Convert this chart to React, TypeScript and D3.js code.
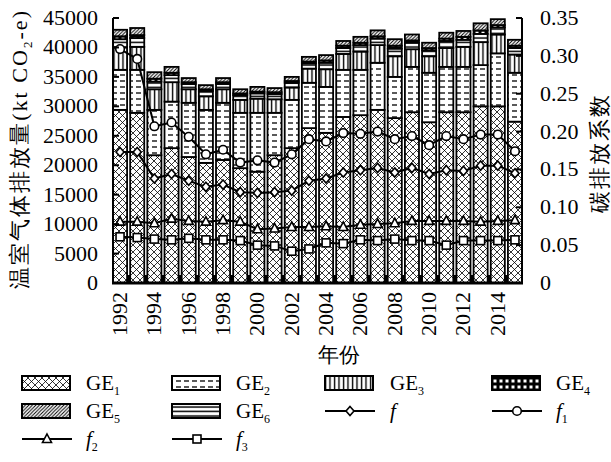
import { useEffect, useRef } from "react";
import * as d3 from "d3";

const years = [1992, 1993, 1994, 1995, 1996, 1997, 1998, 1999, 2000, 2001, 2002, 2003,
  2004, 2005, 2006, 2007, 2008, 2009, 2010, 2011, 2012, 2013, 2014, 2015];

// stacked emission components (kt CO2-e)
const GE1 = [29400, 28900, 21700, 22900, 21400, 20400, 20900, 19500, 18900, 21700, 22900, 26300,
  25500, 28200, 28500, 29400, 28000, 29000, 27300, 29000, 29000, 30000, 30000, 27400];
const GE2 = [6800, 7300, 7700, 7900, 9200, 9000, 9700, 9400, 10000, 7200, 8200, 7700,
  7800, 8000, 7700, 8000, 7000, 7700, 8400, 7700, 7700, 7000, 9000, 8300];
const GE3 = [3800, 3900, 3500, 3300, 2300, 2300, 2300, 2200, 2400, 2300, 2100, 2400,
  3000, 2700, 3100, 3000, 3500, 3000, 2800, 3200, 3400, 3900, 3200, 3100];
const GE4 = [500, 500, 500, 400, 300, 300, 300, 300, 300, 300, 300, 300,
  400, 400, 400, 400, 500, 400, 400, 400, 500, 600, 400, 400];
const GE5 = [1100, 1200, 1100, 1000, 700, 700, 700, 700, 800, 700, 700, 800,
  900, 800, 1000, 1000, 1100, 1000, 900, 1000, 1000, 1200, 1000, 1000];
const GE6 = [1400, 1500, 1300, 1200, 900, 900, 900, 800, 900, 900, 800, 900,
  1100, 1000, 1100, 1100, 1300, 1100, 1000, 1200, 1200, 1400, 1200, 1100];

// carbon emission coefficients
const f = [0.173, 0.173, 0.138, 0.144, 0.135, 0.127, 0.130, 0.120, 0.119, 0.120, 0.122, 0.135,
  0.138, 0.146, 0.149, 0.152, 0.146, 0.152, 0.144, 0.149, 0.148, 0.155, 0.155, 0.145];
const f1 = [0.309, 0.296, 0.207, 0.212, 0.193, 0.170, 0.176, 0.159, 0.162, 0.159, 0.170, 0.190,
  0.187, 0.198, 0.197, 0.200, 0.190, 0.194, 0.182, 0.194, 0.190, 0.196, 0.196, 0.174];
const f2 = [0.081, 0.081, 0.079, 0.085, 0.082, 0.081, 0.083, 0.081, 0.071, 0.072, 0.074, 0.074,
  0.075, 0.074, 0.077, 0.078, 0.079, 0.082, 0.082, 0.082, 0.082, 0.081, 0.082, 0.083];
const f3 = [0.061, 0.060, 0.058, 0.057, 0.059, 0.057, 0.057, 0.056, 0.050, 0.049, 0.042, 0.045,
  0.053, 0.052, 0.057, 0.056, 0.058, 0.056, 0.056, 0.050, 0.056, 0.056, 0.056, 0.057];

const leftTicks = [0, 5000, 10000, 15000, 20000, 25000, 30000, 35000, 40000, 45000];
const rightTicks = [0, 0.05, 0.1, 0.15, 0.2, 0.25, 0.3, 0.35];

const FAMILY = "Liberation Serif, serif";

type Key = "GE1" | "GE2" | "GE3" | "GE4" | "GE5" | "GE6";
const series: Record<Key, number[]> = { GE1, GE2, GE3, GE4, GE5, GE6 };
const stackOrder: Key[] = ["GE1", "GE2", "GE3", "GE6", "GE4", "GE5"];

const Marker = ({ kind, x, y }: { kind: string; x: number; y: number }) => {
  const common = { fill: "#fff", stroke: "#000", strokeWidth: 1.6 };
  if (kind === "circle") return <circle cx={x} cy={y} r={4.3} {...common} />;
  if (kind === "diamond")
    return <path d={`M${x},${y - 4.6}L${x + 4},${y}L${x},${y + 4.6}L${x - 4},${y}Z`} {...common} />;
  if (kind === "triangle")
    return <path d={`M${x},${y - 5}L${x + 4.5},${y + 3.5}L${x - 4.5},${y + 3.5}Z`} {...common} />;
  return <rect x={x - 4} y={y - 4} width={8} height={8} {...common} />;
};

export default function App() {
  const width = 611;
  const height = 462;
  const left = 113, right = 522, top = 18, bottom = 283;
  const svgRef = useRef<SVGSVGElement>(null);

  // force the serif face on every text node
  useEffect(() => {
    document.body.style.fontFamily = FAMILY;
    d3.select(svgRef.current).selectAll("text").attr("font-family", FAMILY);
  }, []);

  const x = d3.scaleBand<number>().domain(years).range([left, right]).paddingInner(0.18).paddingOuter(0);
  const yL = d3.scaleLinear().domain([0, 45000]).range([bottom, top]);
  const yR = d3.scaleLinear().domain([0, 0.35]).range([bottom, top]);
  const bw = x.bandwidth();

  const rows = years.map((yr, i) => {
    const r: any = { year: yr };
    stackOrder.forEach((k) => (r[k] = series[k][i]));
    return r;
  });
  const stacked = d3.stack<any>().keys(stackOrder)(rows);

  const lineGen = d3
    .line<number>()
    .x((_, i) => x(years[i])! + bw / 2)
    .y((v) => yR(v));

  const lines = [
    { name: "f", data: f, marker: "diamond" },
    { name: "f1", data: f1, marker: "circle" },
    { name: "f2", data: f2, marker: "triangle" },
    { name: "f3", data: f3, marker: "square" },
  ];

  const legendCols = [22, 172, 325, 492];
  const legendText = [86, 236, 390, 556];
  const legendRows = [383, 411, 439];
  const legendItems: { label: string; sub: string; italic: boolean; fill?: string; marker?: string }[] = [
    { label: "GE", sub: "1", italic: false, fill: "url(#pGE1)" },
    { label: "GE", sub: "2", italic: false, fill: "url(#pGE2)" },
    { label: "GE", sub: "3", italic: false, fill: "url(#pGE3)" },
    { label: "GE", sub: "4", italic: false, fill: "url(#pGE4)" },
    { label: "GE", sub: "5", italic: false, fill: "url(#pGE5)" },
    { label: "GE", sub: "6", italic: false, fill: "url(#pGE6)" },
    { label: "f", sub: "", italic: true, marker: "diamond" },
    { label: "f", sub: "1", italic: true, marker: "circle" },
    { label: "f", sub: "2", italic: true, marker: "triangle" },
    { label: "f", sub: "3", italic: true, marker: "square" },
  ];

  return (
    <svg ref={svgRef} width={width} height={height} fontFamily={FAMILY}
      style={{ position: "absolute", left: 0, top: 0 }}>
      <defs>
        <pattern id="pGE1" width={7} height={7} patternUnits="userSpaceOnUse">
          <rect width={7} height={7} fill="#fff" />
          <path d="M0,0L7,7M7,0L0,7" stroke="#000" strokeWidth={0.8} />
        </pattern>
        <pattern id="pGE2" width={8} height={6} patternUnits="userSpaceOnUse">
          <rect width={8} height={6} fill="#fff" />
          <path d="M0,3H5" stroke="#000" strokeWidth={1.3} />
        </pattern>
        <pattern id="pGE3" width={4.5} height={4} patternUnits="userSpaceOnUse">
          <rect width={4.5} height={4} fill="#fff" />
          <path d="M1.5,0V4" stroke="#000" strokeWidth={1.4} />
        </pattern>
        <pattern id="pGE4" width={6} height={6} patternUnits="userSpaceOnUse">
          <rect width={6} height={6} fill="#000" />
          <rect x={1.5} y={1.5} width={3} height={3} fill="#fff" />
        </pattern>
        <pattern id="pGE5" width={3.5} height={3.5} patternUnits="userSpaceOnUse">
          <rect width={3.5} height={3.5} fill="#fff" />
          <path d="M0,3.5L3.5,0M-1,1L1,-1M2.5,4.5L4.5,2.5" stroke="#000" strokeWidth={1} />
        </pattern>
        <pattern id="pGE6" width={4} height={4.5} patternUnits="userSpaceOnUse">
          <rect width={4} height={4.5} fill="#fff" />
          <path d="M0,2H4" stroke="#000" strokeWidth={1.5} />
        </pattern>
      </defs>

      {/* stacked bars */}
      {stacked.map((layer) => (
        <g key={layer.key} fill={`url(#p${layer.key})`} stroke="#000" strokeWidth={1.8}>
          {layer.map((d, i) => (
            <rect
              key={i}
              x={x(years[i])}
              y={yL(d[1])}
              width={bw}
              height={yL(d[0]) - yL(d[1])}
            />
          ))}
        </g>
      ))}

      {/* coefficient lines */}
      {lines.map((l) => (
        <g key={l.name}>
          <path d={lineGen(l.data) || ""} fill="none" stroke="#000" strokeWidth={2} />
          {l.data.map((v, i) => (
            <Marker key={i} kind={l.marker} x={x(years[i])! + bw / 2} y={yR(v)} />
          ))}
        </g>
      ))}

      {/* axes */}
      <g stroke="#000">
        <line x1={left} x2={left} y1={top} y2={bottom} strokeWidth={2} />
        <line x1={right} x2={right} y1={top} y2={bottom} strokeWidth={2} />
        {leftTicks.map((t) => (
          <line key={t} x1={left} x2={left + 6} y1={yL(t)} y2={yL(t)} strokeWidth={2} />
        ))}
        {rightTicks.map((t) => (
          <line key={t} x1={right - 6} x2={right} y1={yR(t)} y2={yR(t)} strokeWidth={2} />
        ))}
        {years.slice(1).map((yr) => {
          const bx = x(yr)! - (x.step() - bw) / 2;
          return <line key={yr} x1={bx} x2={bx} y1={bottom} y2={bottom - 8} strokeWidth={3} />;
        })}
        <line x1={left - 1} x2={right + 1} y1={bottom} y2={bottom} strokeWidth={3} />
      </g>

      <g fill="#000">
        {leftTicks.map((t) => (
          <text key={t} x={98} y={yL(t) + 7} textAnchor="end" fontSize={22} fontFamily={FAMILY}>{t}</text>
        ))}
        {rightTicks.map((t) => (
          <text key={t} x={540} y={yR(t) + 7} fontSize={22} fontFamily={FAMILY}>
            {t === 0 ? "0" : d3.format(".2f")(t)}
          </text>
        ))}
        {years.filter((_, i) => i % 2 === 0).map((yr) => (
          <text
            key={yr}
            transform={`translate(${x(yr)! + bw / 2 + 7},${bottom + 9}) rotate(-90)`}
            textAnchor="end"
            fontSize={22}
            fontFamily={FAMILY}
          >
            {yr}
          </text>
        ))}
        <text transform="translate(27,150) rotate(-90)" textAnchor="middle" fontSize={22}
          textLength={278} lengthAdjust="spacing" fontFamily={FAMILY}>
          温室气体排放量(kt CO<tspan fontSize={13} dy={5}>2</tspan><tspan dy={-5}>-e)</tspan>
        </text>
        <text transform="translate(607,153) rotate(-90)" textAnchor="middle" fontSize={22}
          letterSpacing={2} fontFamily={FAMILY}>
          碳排放系数
        </text>
        <text x={339} y={362} textAnchor="middle" fontSize={21} fontFamily={FAMILY}>年份</text>
      </g>

      {/* legend */}
      <g>
        {legendItems.map((item, i) => {
          const col = i % 4;
          const row = Math.floor(i / 4);
          const sx = legendCols[col];
          const cy = legendRows[row];
          return (
            <g key={i}>
              {item.fill ? (
                <rect x={sx} y={cy - 7} width={48} height={14} fill={item.fill} stroke="#000" strokeWidth={2} />
              ) : (
                <g>
                  <line x1={sx} x2={sx + 50} y1={cy} y2={cy} stroke="#000" strokeWidth={2} />
                  <Marker kind={item.marker!} x={sx + 25} y={cy} />
                </g>
              )}
              <text x={legendText[col]} y={cy + 7} fontSize={21} fontFamily={FAMILY}
                fontStyle={item.italic ? "italic" : "normal"}>
                {item.label}
                {item.sub && (
                  <tspan fontSize={12} dy={5} fontStyle="normal">{item.sub}</tspan>
                )}
              </text>
            </g>
          );
        })}
      </g>
    </svg>
  );
}
